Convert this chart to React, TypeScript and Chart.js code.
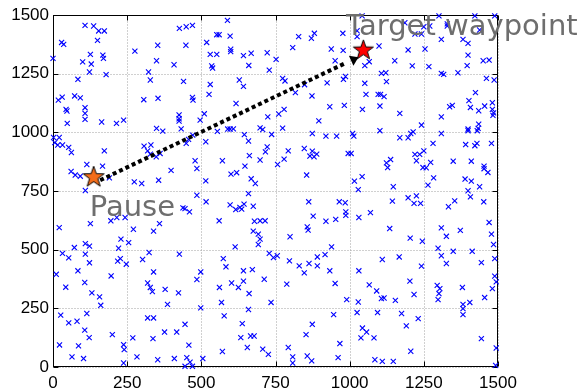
import React, { useEffect, useRef } from 'react';
import { Chart, registerables } from 'chart.js';

Chart.register(...registerables);

// Random waypoints (blue crosses)
const pointX = [
  108, 137, 154, 173, 29, 36, 150, 0, 126, 168, 170, 100, 129, 123, 179, 84, 18, 31, 73, 92, 44, 47, 108, 108, 108, 48, 164, 214, 238,
  426, 449, 470, 353, 448, 276, 349, 408, 322, 328, 440, 306, 354, 470, 472, 425, 425, 425, 496, 349, 432,
  588, 552, 560, 597, 518, 530, 552, 599, 599, 642, 668, 722, 752, 535, 538, 660, 729, 530, 628, 642, 526, 617, 510, 724, 761, 779,
  589, 597, 608, 698, 707, 774, 828, 871, 881, 977, 808, 938, 978, 951, 774, 782, 848, 924, 979, 986, 817, 873, 933, 982, 896,
  1042, 1301, 1422, 1489, 1186, 1329, 1329, 1250, 1270, 1025, 1025, 1220, 1242, 1438, 1309, 1382, 1399, 1099, 1197, 1254, 1399,
  1152, 1450, 1470, 1066, 1051, 1211, 1267, 1396, 1107, 1122, 1309, 1317, 1365, 1124, 1051, 1461, 1487, 1055, 1096, 1104, 1116,
  1424, 1102, 1043, 1169, 1337, 1346, 1309, 1402, 1407, 1435, 1455, 1481, 1481, 1485, 1483, 1242, 1399, 1433, 1435,
  2, 21, 6, 16, 32, 53, 62, 173, 370, 307, 330, 319, 328, 348, 361, 449, 457, 471, 61, 75, 92, 114, 167, 190, 109, 274, 299, 356,
  398, 479, 485, 485, 438, 445, 460, 21, 126, 195, 215, 243, 271, 339, 359, 229, 255, 221, 72, 109, 123,
  554, 645, 737, 515, 659, 722, 716, 662, 571, 698, 647, 600, 619, 668, 682, 515, 874, 920, 956, 847, 793, 779, 757, 874, 866, 880,
  889, 995, 855, 659, 516, 597, 616, 630, 636, 644, 675, 560, 679, 698, 715, 675, 692, 698, 692, 614, 862, 965, 985, 987, 987, 877,
  920, 953, 857, 860, 799, 939,
  1010, 1014, 1102, 1169, 1197, 1206, 1214, 1309, 1399, 1430, 1281, 1391, 1422, 1429, 1478, 1005, 1138, 1124, 1128, 1220, 1236,
  1250, 1225, 1247, 1258, 1273, 1349, 1410, 1453, 1453, 1466, 1016, 1042, 1147, 1029, 1283, 1264, 1389, 1410, 1438, 1399, 1225,
  1197, 1144, 1217, 1239, 1407, 1452, 1354, 1333, 1070, 1031, 1470, 1135, 1309, 1373, 1326, 1478, 1485, 1204, 1245, 1298,
  32, 53, 109, 123, 218, 227, 247, 324, 302, 426, 11, 84, 196, 339, 485, 43, 107, 131, 157, 161, 319, 328, 335, 378, 423, 386, 26,
  53, 81, 114, 107, 122, 200, 22, 86, 64, 103, 238, 240, 238, 319, 339, 269, 337, 376, 417, 445, 458, 283, 353, 409, 451, 462, 470, 445,
  729, 743, 756, 574, 583, 498, 642, 672, 602, 642, 561, 625, 712, 661, 568, 735, 498, 659, 577, 638, 633, 666, 678, 655, 571, 707,
  726, 505, 797, 830, 863, 891, 891, 917, 847, 933, 788, 951, 990, 946, 874, 853, 967, 793, 857, 872, 961, 808, 808,
  1110, 1167, 1242, 1031, 1066, 1091, 1203, 1217, 1107, 1116, 1154, 1029, 1309, 1349, 1413, 1444, 1489, 1326, 1489, 1494, 1481,
  1295, 1304, 1301, 1298, 1380, 1455, 1405, 1382, 1382, 1382, 1025, 1094, 1175, 1231, 1191, 1043, 1057, 1038, 1082, 1444, 1494,
  1206, 1085, 1110, 1147, 1492,
];
const pointY = [
  1456, 1453, 1432, 1432, 1383, 1375, 1392, 1315, 1332, 1329, 1315, 1300, 1291, 1257, 1246, 1226, 1137, 1150, 1155, 1147, 1098, 1091, 1105, 1081, 1055, 1038, 1044, 1038, 1052,
  1443, 1450, 1456, 1371, 1371, 1346, 1305, 1288, 1257, 1223, 1217, 1139, 1145, 1149, 1137, 1074, 1058, 1048, 1052, 1017, 1015,
  1477, 1416, 1416, 1410, 1383, 1332, 1332, 1354, 1344, 1327, 1337, 1339, 1311, 1283, 1274, 1285, 1265, 1204, 1223, 1196, 1162, 1123, 1079, 1066, 1078, 1098,
  1014, 1014, 1015, 1019, 1012, 1018, 1408, 1401, 1422, 1422, 1361, 1355, 1349, 1305, 1230, 1219, 1203, 1211, 1226, 1238, 1169, 1155, 1109, 1115, 1049,
  1496, 1496, 1496, 1496, 1467, 1462, 1453, 1450, 1453, 1433, 1408, 1419, 1419, 1436, 1396, 1396, 1379, 1368, 1351, 1355, 1329,
  1305, 1305, 1308, 1301, 1284, 1283, 1280, 1284, 1251, 1254, 1251, 1247, 1254, 1216, 1209, 1230, 1223, 1162, 1162, 1162, 1152,
  1169, 1112, 1098, 1081, 1109, 1115, 1066, 1135, 1106, 1092, 1112, 1126, 1098, 1083, 1072, 1031, 1014, 1017, 1035,
  978, 978, 956, 946, 946, 936, 914, 921, 1005, 941, 946, 921, 907, 896, 910, 953, 970, 988, 833, 818, 813, 863, 856, 806, 752, 789, 782, 796,
  838, 879, 846, 732, 678, 675, 661, 594, 611, 623, 637, 637, 587, 579, 611, 545, 530, 506, 509, 526, 515,
  1004, 990, 991, 960, 963, 938, 917, 901, 879, 882, 856, 822, 828, 802, 782, 793, 995, 984, 984, 931, 921, 886, 863, 920, 899, 896,
  907, 910, 818, 739, 704, 691, 671, 680, 673, 694, 685, 623, 621, 623, 623, 579, 566, 545, 522, 512, 704, 704, 700, 661, 646, 643,
  621, 629, 597, 583, 555, 512,
  995, 984, 1007, 977, 977, 995, 1002, 995, 1007, 1007, 953, 948, 943, 953, 953, 910, 884, 870, 850, 906, 906,
  921, 879, 850, 849, 872, 877, 877, 856, 845, 829, 792, 811, 768, 756, 806, 775, 801, 792, 768, 751, 729,
  721, 707, 697, 697, 725, 704, 708, 683, 658, 637, 616, 590, 593, 582, 557, 566, 522, 549, 536, 506,
  484, 465, 481, 444, 451, 462, 438, 488, 458, 481, 395, 410, 388, 405, 373, 340, 360, 316, 299, 263, 358, 339, 321, 331, 316, 267, 221,
  188, 195, 228, 157, 125, 138, 94, 90, 43, 36, 95, 74, 17, 209, 209, 124, 121, 149, 149, 182, 93, 43, 31, 36, 40, 21, 3, 3,
  484, 466, 474, 462, 427, 405, 410, 415, 358, 366, 339, 339, 374, 313, 275, 275, 252, 245, 218, 185, 125, 132, 132, 83, 66, 76,
  54, 36, 452, 431, 441, 469, 431, 479, 401, 410, 353, 356, 287, 223, 182, 138, 100, 83, 47, 26, 40, 43, 17,
  458, 469, 430, 410, 350, 324, 366, 309, 292, 294, 284, 277, 474, 493, 493, 445, 462, 441, 387, 363, 334,
  348, 334, 313, 287, 339, 296, 275, 267, 249, 223, 232, 232, 228, 206, 175, 166, 149, 124, 124, 121, 81,
  67, 31, 24, 24, 7,
];

// Special waypoints
const pauseX = [137];
const pauseY = [813];
const targetX = [1046];
const targetY = [1354];

// Dotted movement path (start, end)
const pathX = [159, 984];
const pathY = [796, 1294];

const xTickValues = [0, 250, 500, 750, 1000, 1250, 1500];
const yTickValues = [0, 250, 500, 750, 1000, 1250, 1500];

function makeStar(R: number, fill: string): HTMLCanvasElement {
  const c = document.createElement('canvas');
  const s = Math.ceil(2 * R + 4);
  c.width = s;
  c.height = s;
  const g = c.getContext('2d')!;
  g.translate(s / 2, s / 2 + 1);
  g.beginPath();
  for (let i = 0; i < 10; i++) {
    const r = i % 2 === 0 ? R : R * 0.4;
    const a = -Math.PI / 2 + (i * Math.PI) / 5;
    g.lineTo(r * Math.cos(a), r * Math.sin(a));
  }
  g.closePath();
  g.fillStyle = fill;
  g.fill();
  g.lineWidth = 1;
  g.strokeStyle = '#000';
  g.stroke();
  return c;
}

const framePlugin = {
  id: 'frameAndNotes',
  beforeDatasetsDraw(chart: any) {
    const { ctx, chartArea: a, scales } = chart;
    const L = Math.round(a.left) + 0.5;
    const R = Math.round(a.right) - 0.5;
    const T = Math.round(a.top) + 0.5;
    const B = Math.round(a.bottom) - 0.5;
    ctx.save();
    // dotted grid
    ctx.strokeStyle = '#a0a0a0';
    ctx.lineWidth = 1;
    ctx.setLineDash([1, 2]);
    ctx.beginPath();
    xTickValues.forEach((v) => {
      const p = Math.round(scales.x.getPixelForValue(v)) + 0.5;
      ctx.moveTo(p, T);
      ctx.lineTo(p, B);
    });
    yTickValues.forEach((v) => {
      const p = Math.round(scales.y.getPixelForValue(v)) + 0.5;
      ctx.moveTo(L, p);
      ctx.lineTo(R, p);
    });
    ctx.stroke();
    ctx.setLineDash([]);
    // frame and inward ticks
    ctx.strokeStyle = '#000';
    ctx.strokeRect(L, T, R - L, B - T);
    const tl = 5;
    ctx.beginPath();
    xTickValues.forEach((v) => {
      const p = Math.round(scales.x.getPixelForValue(v)) + 0.5;
      ctx.moveTo(p, B);
      ctx.lineTo(p, B - tl);
      ctx.moveTo(p, T);
      ctx.lineTo(p, T + tl);
    });
    yTickValues.forEach((v) => {
      const p = Math.round(scales.y.getPixelForValue(v)) + 0.5;
      ctx.moveTo(L, p);
      ctx.lineTo(L + tl, p);
      ctx.moveTo(R, p);
      ctx.lineTo(R - tl, p);
    });
    ctx.stroke();
    ctx.restore();
  },
  afterDatasetsDraw(chart: any) {
    const { ctx, scales } = chart;
    ctx.save();
    // arrow head at end of the path
    const ex = scales.x.getPixelForValue(pathX[1]);
    const ey = scales.y.getPixelForValue(pathY[1]);
    ctx.fillStyle = '#000';
    ctx.beginPath();
    ctx.moveTo(ex + 4, ey - 7.5);
    ctx.lineTo(ex + 13.5, ey - 6);
    ctx.lineTo(ex + 8.5, ey + 2.5);
    ctx.closePath();
    ctx.fill();
    // labels
    ctx.font = '29px "DejaVu Sans"';
    ctx.fillStyle = '#6e6e6e';
    ctx.textAlign = 'left';
    ctx.textBaseline = 'alphabetic';
    ctx.fillText('Target waypoint', scales.x.getPixelForValue(988), scales.y.getPixelForValue(1415));
    ctx.fillText('Pause', scales.x.getPixelForValue(124), scales.y.getPixelForValue(643));
    ctx.restore();
  },
};

export default function App() {
  const ref = useRef<HTMLCanvasElement>(null);
  useEffect(() => {
    if (!ref.current) return;
    const crosses = pointX.map((x, i) => ({ x, y: pointY[i] }));
    const tickFont = { family: '"Liberation Sans", Arial, sans-serif', size: 17 };
    const chart = new Chart(ref.current, {
      type: 'scatter',
      data: {
        datasets: [
          {
            label: 'Target',
            data: targetX.map((x, i) => ({ x, y: targetY[i] })),
            pointStyle: makeStar(10.5, '#ff0000') as any,
            pointRadius: 10,
            clip: false as any,
          },
          {
            label: 'Pause',
            data: pauseX.map((x, i) => ({ x, y: pauseY[i] })),
            pointStyle: makeStar(11, '#f36d1a') as any,
            pointRadius: 10,
            clip: false as any,
          },
          {
            label: 'Path',
            data: pathX.map((x, i) => ({ x, y: pathY[i] })),
            showLine: true,
            borderColor: '#000',
            borderWidth: 4,
            borderDash: [4, 3],
            borderCapStyle: 'butt',
            pointRadius: 0,
            fill: false,
          } as any,
          {
            label: 'Waypoints',
            data: crosses,
            pointStyle: 'crossRot',
            pointRadius: 3.6,
            borderColor: '#0000ff',
            backgroundColor: '#0000ff',
            pointBorderColor: '#0000ff',
            pointBorderWidth: 1.1,
            clip: false as any,
          } as any,
        ],
      },
      options: {
        animation: false,
        responsive: false,
        devicePixelRatio: 1,
        events: [],
        layout: { padding: { top: 15, right: 82, bottom: 0, left: 0 } },
        plugins: { legend: { display: false }, tooltip: { enabled: false } },
        scales: {
          x: {
            type: 'linear',
            min: 0,
            max: 1500,
            afterFit: (s: any) => {
              s.height = 24;
            },
            afterBuildTicks: (s: any) => {
              s.ticks = xTickValues.map((v) => ({ value: v }));
            },
            ticks: {
              color: '#000',
              padding: 6,
              font: tickFont,
              maxRotation: 0,
              autoSkip: false,
              callback: (v: any) => String(v),
            },
            grid: { display: false, drawTicks: false },
            border: { display: false },
          },
          y: {
            type: 'linear',
            min: 0,
            max: 1500,
            afterFit: (s: any) => {
              s.width = 53;
            },
            afterBuildTicks: (s: any) => {
              s.ticks = yTickValues.map((v) => ({ value: v }));
            },
            ticks: {
              color: '#000',
              padding: 4,
              font: tickFont,
              autoSkip: false,
              callback: (v: any) => String(v),
            },
            grid: { display: false, drawTicks: false },
            border: { display: false },
          },
        },
      },
      plugins: [framePlugin],
    });
    return () => chart.destroy();
  }, []);
  return (
    <div style={{ position: 'fixed', left: 0, top: 0, width: 580, height: 391, background: '#fff' }}>
      <canvas ref={ref} width={580} height={391} style={{ display: 'block' }} />
    </div>
  );
}
